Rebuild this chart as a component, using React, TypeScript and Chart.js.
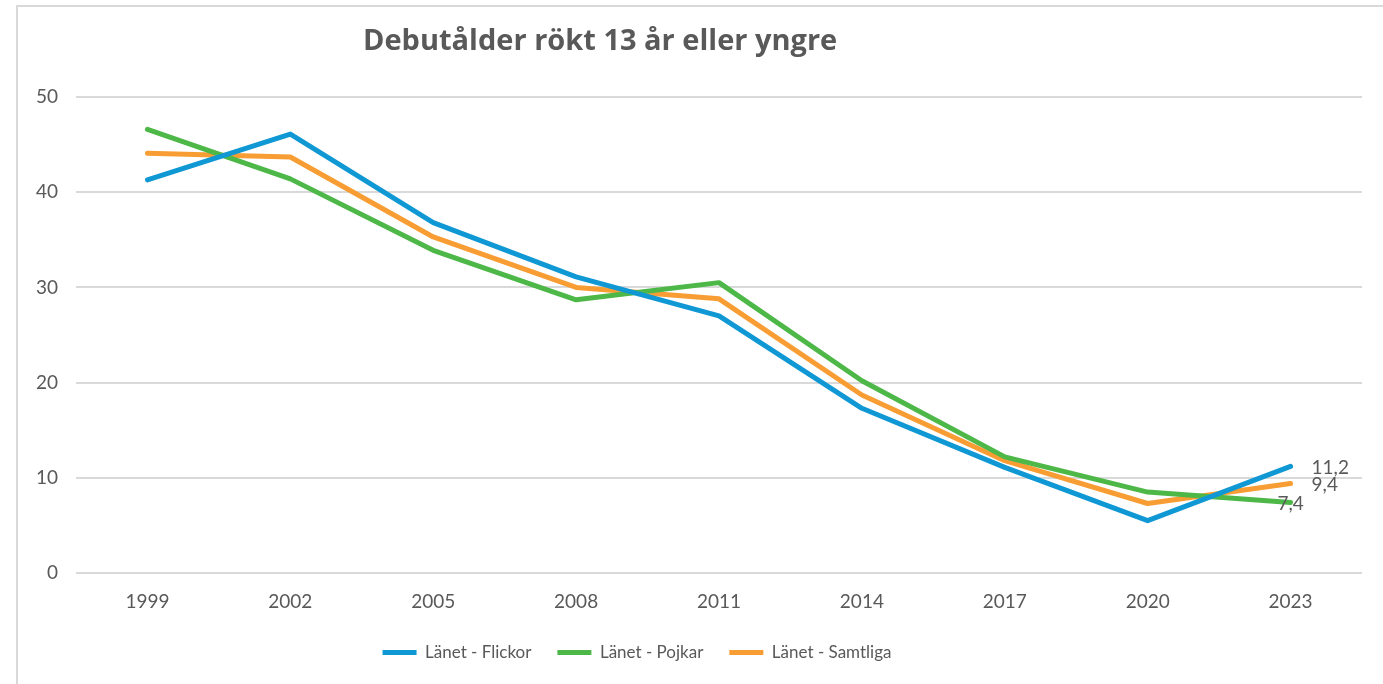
import React, { useEffect, useRef } from "react";
import { Chart, registerables } from "chart.js";

Chart.register(...registerables);

const TITLE = "Debutålder rökt 13 år eller yngre";
const YEARS = ["1999", "2002", "2005", "2008", "2011", "2014", "2017", "2020", "2023"];
const FLICKOR = [41.3, 46.1, 36.8, 31.1, 27.0, 17.3, 11.1, 5.5, 11.2];
const POJKAR = [46.6, 41.4, 33.9, 28.7, 30.5, 20.2, 12.2, 8.5, 7.4];
const SAMTLIGA = [44.1, 43.7, 35.3, 30.0, 28.8, 18.7, 11.8, 7.3, 9.4];
const SERIES_NAMES = ["Länet - Flickor", "Länet - Pojkar", "Länet - Samtliga"];
const SERIES_COLORS = ["#0f98d3", "#4db848", "#f89d34"];
const END_LABEL_POS = ["right", "center", "right"];
const Y_MIN = 0;
const Y_MAX = 50;
const Y_STEP = 10;

const FONT = 'Lato, "Open Sans", "DejaVu Sans", sans-serif';
const TITLE_FONT = '"Open Sans", Lato, sans-serif';
const TEXT_COLOR = "#595959";
const LEGEND_SHIFT = 44;

const overlayPlugin = {
  id: "overlay",
  afterLayout(chart: any) {
    const lg = chart.legend;
    if (lg) {
      lg.left -= LEGEND_SHIFT;
      lg.right -= LEGEND_SHIFT;
    }
  },
  afterDatasetsDraw(chart: any) {
    const { ctx, chartArea, scales } = chart;
    ctx.save();
    // title
    ctx.fillStyle = TEXT_COLOR;
    ctx.font = `bold 29px ${TITLE_FONT}`;
    ctx.textBaseline = "alphabetic";
    ctx.textAlign = "left";
    ctx.fillText(TITLE, chartArea.left + 287, chartArea.top - 47);
    // end labels
    ctx.font = `19px ${FONT}`;
    ctx.textBaseline = "middle";
    chart.data.datasets.forEach((ds: any, i: number) => {
      const last = ds.data.length - 1;
      const v = ds.data[last];
      const x = scales.x.getPixelForValue(last);
      const y = scales.y.getPixelForValue(v);
      const txt = v.toFixed(1).replace(".", ",");
      if (END_LABEL_POS[i] === "right") {
        ctx.textAlign = "left";
        ctx.fillText(txt, x + 21, y + 1);
      } else {
        ctx.textAlign = "center";
        ctx.fillText(txt, x, y + 1);
      }
    });
    ctx.restore();
  },
};

export default function App() {
  const ref = useRef<HTMLCanvasElement | null>(null);

  useEffect(() => {
    if (!ref.current) return;
    const seriesData = [FLICKOR, POJKAR, SAMTLIGA];
    const chart = new Chart(ref.current, {
      type: "line",
      data: {
        labels: YEARS,
        datasets: seriesData.map((d, i) => ({
          label: SERIES_NAMES[i],
          data: d,
          borderColor: SERIES_COLORS[i],
          backgroundColor: SERIES_COLORS[i],
          borderWidth: 5,
          borderCapStyle: "round",
          borderJoinStyle: "round",
          pointRadius: 0,
          pointHoverRadius: 0,
          tension: 0,
          fill: false,
        })),
      },
      options: {
        responsive: false,
        animation: false,
        devicePixelRatio: 1,
        layout: { padding: { top: 97, right: 21, bottom: 13, left: 0 } },
        plugins: {
          title: { display: false },
          tooltip: { enabled: false },
          legend: {
            display: true,
            position: "bottom",
            align: "center",
            labels: {
              usePointStyle: true,
              pointStyle: "line",
              pointStyleWidth: 34,
              padding: 26,
              color: TEXT_COLOR,
              font: { family: FONT, size: 17 },
            },
          },
        },
        scales: {
          x: {
            type: "category",
            offset: true,
            grid: { display: false, drawTicks: false },
            border: { display: false },
            ticks: {
              color: TEXT_COLOR,
              font: { family: FONT, size: 19 },
              padding: 17,
              maxRotation: 0,
            },
            afterFit: (scale: any) => {
              scale.height = 45;
            },
          },
          y: {
            min: Y_MIN,
            max: Y_MAX,
            ticks: {
              stepSize: Y_STEP,
              color: TEXT_COLOR,
              font: { family: FONT, size: 19 },
              padding: 18,
            },
            grid: { color: "#d9d9d9", lineWidth: 2, drawTicks: false },
            border: { display: false },
            afterFit: (scale: any) => {
              scale.width = 76;
            },
          },
        },
      },
      plugins: [overlayPlugin],
    } as any);
    return () => chart.destroy();
  }, []);

  return (
    <div
      style={{
        position: "fixed",
        left: 0,
        top: 0,
        width: 1383,
        height: 684,
        overflow: "hidden",
        background: "#ffffff",
      }}
    >
      <div
        style={{
          position: "absolute",
          left: 16,
          top: 5,
          width: 1500,
          height: 800,
          borderLeft: "2px solid #d9d9d9",
          borderTop: "2px solid #d9d9d9",
        }}
      />
      <canvas
        ref={ref}
        width={1383}
        height={684}
        style={{ position: "absolute", left: 0, top: 0, width: 1383, height: 684 }}
      />
    </div>
  );
}
